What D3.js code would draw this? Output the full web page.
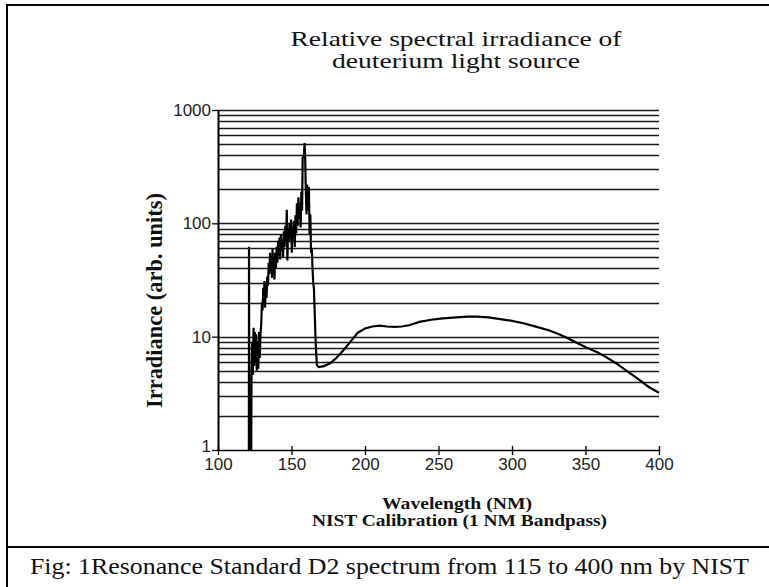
<!DOCTYPE html>
<html>
<head>
<meta charset="utf-8">
<script src="https://cdn.jsdelivr.net/npm/d3@7/dist/d3.min.js"></script>
<style>
  body { margin: 0; background: #fff; }
  svg { display: block; }
</style>
</head>
<body>
<div id="chart"></div>
<script>
// wavelength (nm)
const wavelength = [
  121.0, 121.1, 121.3, 122.6, 122.8, 123.3, 123.7, 124.2, 124.6, 125.1,
  125.5, 125.9, 126.4, 126.9, 127.4, 127.9, 128.4, 128.9, 129.4, 129.9,
  130.3, 130.8, 131.2, 131.6, 132.0, 132.5, 133.0, 133.5, 134.0, 134.5,
  135.0, 135.4, 135.8, 136.2, 136.7, 137.1, 137.5, 138.0, 138.4, 138.9,
  139.4, 139.9, 140.4, 140.9, 141.4, 141.9, 142.3, 142.8, 143.3, 143.8,
  144.3, 144.8, 145.3, 145.8, 146.3, 146.8, 147.2, 147.7, 148.2, 148.7,
  149.2, 149.7, 150.2, 150.7, 151.2, 151.7, 152.2, 152.7, 153.2, 153.7,
  154.2, 154.7, 155.2, 155.7, 156.2, 156.7, 157.2, 157.6, 158.4, 158.9,
  159.3, 159.6, 160.2, 160.6, 161.2, 161.8, 162.3, 162.8, 163.3, 163.8,
  164.3, 164.8, 165.3, 165.8, 166.3, 166.8, 167.3, 168.5, 172, 176,
  180, 185, 190, 195, 200, 205, 210, 215, 220, 225,
  230, 237, 245, 253, 262, 270, 276, 284, 292, 300,
  307, 315, 325, 332, 338, 345, 351, 358, 364, 371,
  378, 385, 393, 400
];
// relative irradiance (arb. units)
const irradiance = [
  1, 62, 1, 1, 4.5, 9, 4.6, 12, 5.5, 11,
  6, 10.5, 5, 9, 5.2, 11, 6.5, 10.5, 13, 20,
  17, 27, 21, 31, 18, 29, 22, 34, 28, 45,
  36, 55, 38, 52, 33, 60, 40, 48, 32, 55,
  40, 62, 45, 70, 52, 75, 48, 80, 58, 72,
  50, 85, 62, 95, 70, 132, 47, 88, 68, 100,
  72, 108, 55, 95, 75, 105, 62, 118, 82, 150,
  95, 170, 110, 150, 92, 190, 130, 380, 390, 510,
  380, 230, 120, 220, 130, 210, 80, 120, 55, 60,
  40, 30, 26, 16, 10, 7, 5.6, 5.4, 5.5, 5.8,
  6.4, 7.5, 9, 10.8, 11.8, 12.3, 12.5, 12.3, 12.2, 12.3,
  12.6, 13.5, 14.1, 14.5, 14.8, 15, 15, 14.8, 14.3, 13.8,
  13.2, 12.4, 11.4, 10.5, 9.7, 8.7, 8, 7.3, 6.6, 5.8,
  5, 4.3, 3.6, 3.2
];

const xTicks = [100, 150, 200, 250, 300, 350, 400];
const yTicks = [1, 10, 100, 1000];

const titleLines = ["Relative spectral irradiance of", "deuterium light source"];
const xTitleLines = ["Wavelength (NM)", "NIST Calibration (1 NM Bandpass)"];
const yTitle = "Irradiance (arb.  units)";
const caption = "Fig: 1Resonance Standard D2 spectrum from 115 to 400 nm by NIST";

const W = 769, H = 587;

const svg = d3.select("#chart").append("svg")
  .attr("width", W)
  .attr("height", H);

svg.append("rect").attr("width", W).attr("height", H).attr("fill", "#fff");

// frame + caption separator
svg.append("line").attr("x1", 7).attr("x2", W).attr("y1", 5).attr("y2", 5)
  .attr("stroke", "#000").attr("stroke-width", 2.2);
svg.append("line").attr("x1", 7).attr("x2", 7).attr("y1", 4).attr("y2", H)
  .attr("stroke", "#000").attr("stroke-width", 2);
svg.append("line").attr("x1", 7).attr("x2", W).attr("y1", 547).attr("y2", 547)
  .attr("stroke", "#000").attr("stroke-width", 2);

const x = d3.scaleLinear().domain([100, 400]).range([218, 659]);
const y = d3.scaleLog().domain([1, 1000]).range([450, 110]);

// horizontal log grid
svg.append("g")
  .attr("class", "grid")
  .selectAll("line")
  .data(y.ticks().filter((d) => d > 1))
  .enter()
  .append("line")
  .attr("x1", x(100))
  .attr("x2", x(400))
  .attr("y1", (d) => Math.round(y(d)) + 0.5)
  .attr("y2", (d) => Math.round(y(d)) + 0.5)
  .attr("stroke", "#1a1a1a")
  .attr("stroke-width", 1.5);

// x axis
const xAxis = svg.append("g")
  .attr("transform", `translate(0,${y(1)})`)
  .call(d3.axisBottom(x).tickValues(xTicks).tickSize(5).tickSizeOuter(0));
xAxis.select(".domain").attr("stroke", "#000").attr("stroke-width", 1.6);
xAxis.selectAll(".tick line").attr("y1", -4).attr("stroke-width", 1.3);
xAxis.selectAll(".tick text")
  .attr("y", 8)
  .attr("font-family", "Liberation Sans, Arial, sans-serif")
  .attr("font-size", 17)
  .attr("fill", "#222");

// y axis
const yAxis = svg.append("g")
  .attr("transform", `translate(${x(100)},0)`)
  .call(d3.axisLeft(y).tickValues(yTicks).tickFormat(d3.format("d"))
    .tickSize(6).tickPadding(1).tickSizeOuter(0));
yAxis.select(".domain").attr("stroke", "#000").attr("stroke-width", 2);
yAxis.selectAll(".tick line").attr("stroke-width", 1.3);
yAxis.selectAll(".tick text")
  .attr("font-family", "Liberation Sans, Arial, sans-serif")
  .attr("font-size", 17)
  .attr("fill", "#222");
yAxis.selectAll(".tick text").filter((d) => d === 1).attr("dy", "0.1em");

// spectrum
const points = wavelength.map((w, i) => [w, irradiance[i]]);
const line = d3.line()
  .x((d) => x(d[0]))
  .y((d) => y(d[1]));

svg.append("path")
  .datum(points)
  .attr("d", line)
  .attr("fill", "none")
  .attr("stroke", "#000")
  .attr("stroke-width", 2.2)
  .attr("stroke-linejoin", "miter");

// chart title
svg.append("g")
  .selectAll("text")
  .data(titleLines)
  .enter()
  .append("text")
  .attr("x", 456)
  .attr("y", (d, i) => 46 + i * 22)
  .attr("text-anchor", "middle")
  .attr("font-family", "Liberation Serif, Times New Roman, serif")
  .attr("font-size", 21)
  .attr("textLength", (d, i) => [331, 248][i])
  .attr("lengthAdjust", "spacingAndGlyphs")
  .attr("fill", "#111")
  .text((d) => d);

// x axis title
svg.append("g")
  .selectAll("text")
  .data(xTitleLines)
  .enter()
  .append("text")
  .attr("x", (d, i) => [457, 459.5][i])
  .attr("y", (d, i) => 509 + i * 17)
  .attr("text-anchor", "middle")
  .attr("font-family", "Liberation Serif, Times New Roman, serif")
  .attr("font-weight", "bold")
  .attr("font-size", 16)
  .attr("textLength", (d, i) => [150, 295][i])
  .attr("lengthAdjust", "spacingAndGlyphs")
  .attr("fill", "#111")
  .text((d) => d);

// y axis title
svg.append("text")
  .attr("transform", "translate(162,300.5) rotate(-90)")
  .attr("text-anchor", "middle")
  .attr("font-family", "Liberation Serif, Times New Roman, serif")
  .attr("font-weight", "bold")
  .attr("font-size", 23)
  .attr("textLength", 215)
  .attr("lengthAdjust", "spacingAndGlyphs")
  .attr("fill", "#111")
  .text(yTitle);

// figure caption
svg.append("text")
  .attr("x", 30)
  .attr("y", 574)
  .attr("font-family", "Liberation Serif, Times New Roman, serif")
  .attr("font-size", 23)
  .attr("textLength", 719)
  .attr("lengthAdjust", "spacingAndGlyphs")
  .attr("fill", "#111")
  .text(caption);
</script>
</body>
</html>
